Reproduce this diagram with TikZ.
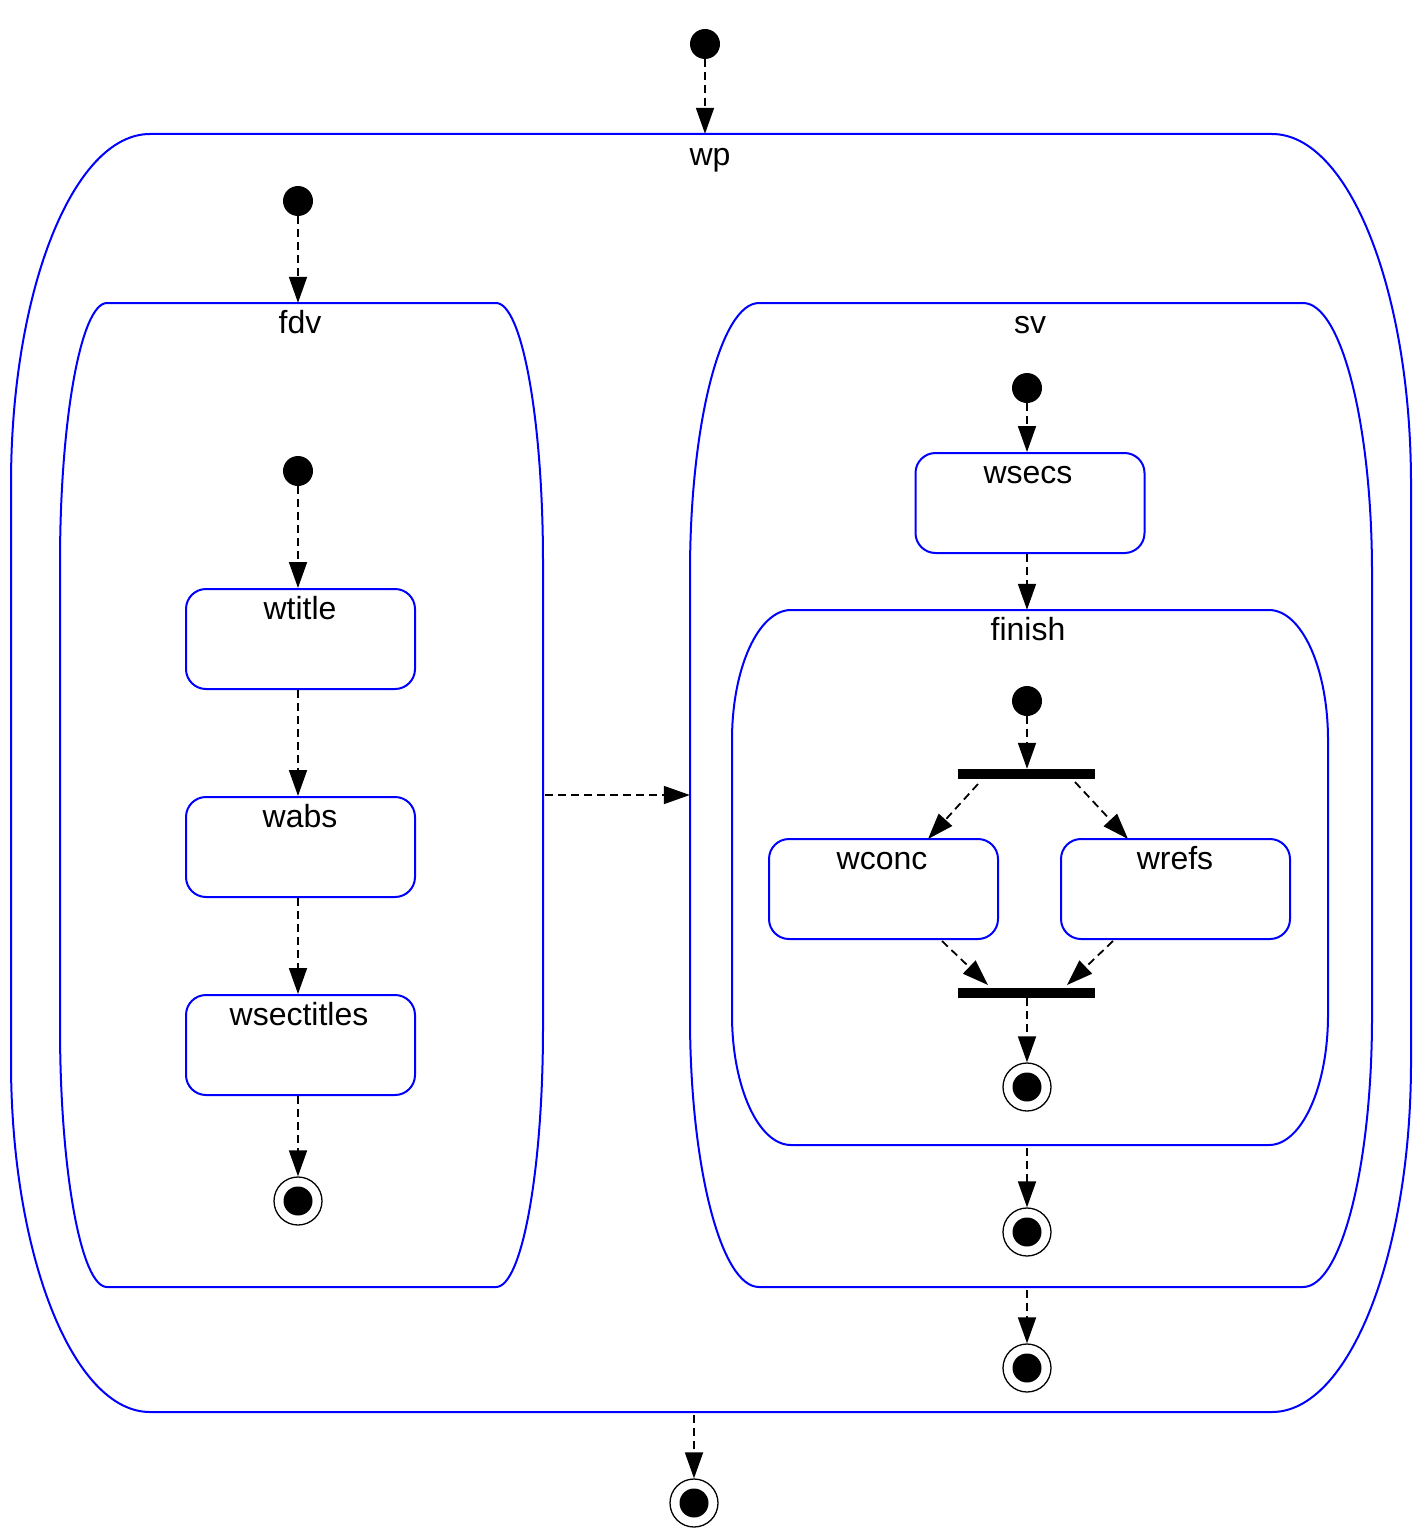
\documentclass[tikz,border=0pt]{standalone}
\usepackage{fontspec}
\setmainfont{Liberation Sans}
\usetikzlibrary{arrows.meta}
\newcommand\compshape[6]{% x1 y1 x2 y2 rx ry
  \draw[comp] ({#1+#5},#2) -- ({#3-#5},#2)
    arc[start angle=-90,end angle=0,x radius=#5,y radius=#6] -- (#3,{#4-#6})
    arc[start angle=0,end angle=90,x radius=#5,y radius=#6] -- ({#1+#5},#4)
    arc[start angle=90,end angle=180,x radius=#5,y radius=#6] -- (#1,{#2+#6})
    arc[start angle=180,end angle=270,x radius=#5,y radius=#6] -- cycle;}
\begin{document}
\begin{tikzpicture}[x=1pt,y=-1pt,
  comp/.style={draw=blue, line width=2pt},
  hull/.style={inner sep=0, draw=none, rectangle},
  st/.style={draw=blue, line width=2pt, rounded corners=20pt, minimum width=229pt, minimum height=100pt, inner sep=0},
  init/.style={circle, fill=black, minimum size=30pt, inner sep=0},
  fin/.style={circle, draw=black, line width=1.3pt, minimum size=48pt, inner sep=0,
     path picture={\fill[black] (path picture bounding box.center) circle (14.5pt);}},
  bar/.style={fill=black, minimum width=137pt, minimum height=10pt, inner sep=0},
  tr/.style={draw=black, line width=1.8pt, dash pattern=on 8pt off 5pt, -{Triangle[length=26pt,width=18pt]}},
  lbl/.style={font=\fontsize{32}{38}\selectfont, anchor=base, inner sep=0}
]
\useasboundingbox (0,0) rectangle (1417,1536);

% composite states
\compshape{11}{134}{1411}{1412}{139}{350}
\compshape{60}{303}{543}{1287}{47}{260}
\compshape{690}{303}{1372}{1287}{69}{270}
\compshape{732}{610}{1328}{1145}{59}{130}
\node[hull, minimum width=1400pt, minimum height=1278pt] (wp) at (711,773) {};
\node[hull, minimum width=483pt, minimum height=984pt] (fdv) at (301.5,795) {};
\node[hull, minimum width=682pt, minimum height=984pt] (sv) at (1031,795) {};
\node[hull, minimum width=596pt, minimum height=535pt] (finish) at (1030,877.5) {};

\node[lbl] (wpl) at (710,165) {wp};
\node[lbl] (fdvl) at (300,333) {fdv};
\node[lbl] (svl) at (1030,333) {sv};
\node[lbl] (finishl) at (1028,640) {finish};

% simple states
\node[st] (wtitle) at (300.5,639) {};
\node[st] (wabs) at (300.5,847) {};
\node[st] (wsectitles) at (300.5,1045) {};
\node[st] (wsecs) at (1030,503) {};
\node[st] (wconc) at (883.5,889) {};
\node[st] (wrefs) at (1175.5,889) {};
\node[lbl] (wtitlel) at (300,619) {wtitle};
\node[lbl] (wabsl) at (300,827) {wabs};
\node[lbl] (wsectitlesl) at (299,1025) {wsectitles};
\node[lbl] (wsecsl) at (1028,483) {wsecs};
\node[lbl] (wconcl) at (882,869) {wconc};
\node[lbl] (wrefsl) at (1175,869) {wrefs};

% pseudo states
\node[init] (i0) at (705,44) {};
\node[init] (i1) at (298,201) {};
\node[init] (i2) at (298,471) {};
\node[init] (i3) at (1027,388) {};
\node[init] (i4) at (1027,701) {};
\node[bar] (bar1) at (1026.5,774) {};
\node[bar] (bar2) at (1026.5,993) {};
\node[fin] (f1) at (298,1201) {};
\node[fin] (f2) at (1027,1087) {};
\node[fin] (f3) at (1027,1232) {};
\node[fin] (f4) at (1027,1368) {};
\node[fin] (f5) at (694,1503) {};

\coordinate (b1l) at (978,784);
\coordinate (b1r) at (1075,782);
\coordinate (wct) at (928,839);
\coordinate (wrt) at (1128,839);
\coordinate (wcb) at (942,941);
\coordinate (wrb) at (1113,941);
\coordinate (b2l) at (988,985);
\coordinate (b2r) at (1067,985);

% transitions
\draw[tr] (i0) -- (i0 |- wp.north);
\draw[tr] (i1) -- (i1 |- fdv.north);
\draw[tr] (i2) -- (i2 |- wtitle.north);
\draw[tr] (i2 |- wtitle.south) -- (i2 |- wabs.north);
\draw[tr] (i2 |- wabs.south) -- (i2 |- wsectitles.north);
\draw[tr] (i2 |- wsectitles.south) -- (f1);
\draw[tr] ([xshift=2pt]fdv.east) -- (sv.west);
\draw[tr] (i3) -- (i3 |- wsecs.north);
\draw[tr] (i3 |- wsecs.south) -- (i3 |- finish.north);
\draw[tr] (i4) -- (i4 |- bar1.north);
\draw[tr] (b1l) -- (wct);
\draw[tr] (b1r) -- (wrt);
\draw[tr] (wcb) -- (b2l);
\draw[tr] (wrb) -- (b2r);
\draw[tr] (i4 |- bar2.south) -- (f2);
\draw[tr] ([yshift=-3pt]f3 |- finish.south) -- (f3);
\draw[tr] ([yshift=-3pt]f4 |- sv.south) -- (f4);
\draw[tr] ([yshift=-3pt]f5 |- wp.south) -- (f5);
\end{tikzpicture}
\end{document}
